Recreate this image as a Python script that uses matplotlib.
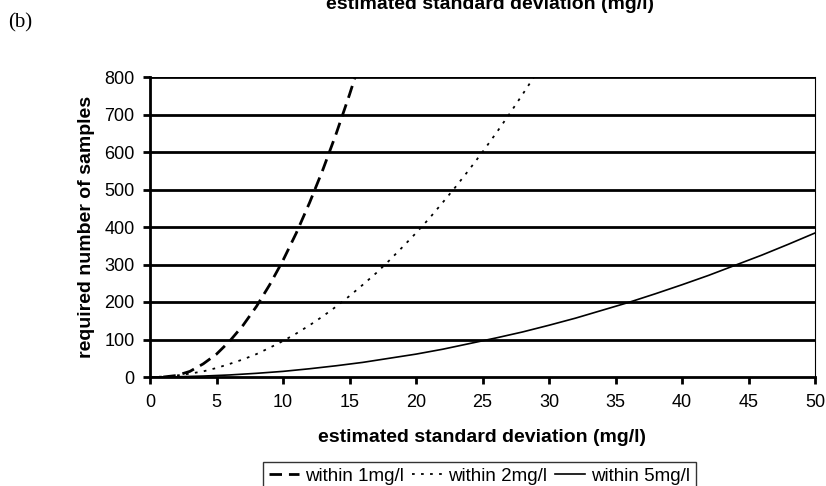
import matplotlib
matplotlib.use("Agg")
import matplotlib.pyplot as plt

# Data (required number of samples vs estimated sd)
sd_1mg = [1, 2, 3, 4, 5, 6, 7, 8, 9, 10, 11, 12, 13, 14, 15, 16]
n_1mg = [0, 4, 15, 35, 61, 96, 138, 188, 246, 311, 384, 465, 553, 649, 753, 864]

sd_2mg = list(range(0, 30))
n_2mg = [0, 1, 4, 9, 15, 24, 35, 47, 61, 78, 96, 116, 138, 162, 188, 216,
         246, 277, 311, 347, 384, 423, 465, 508, 553, 600, 649, 700, 753, 807]

sd_5mg = [0, 2, 4, 6, 8, 10, 12, 14, 16, 18, 20, 22, 24, 26, 28, 30, 32, 34,
          36, 38, 40, 42, 44, 46, 48, 50]
n_5mg = [0, 0.6, 2.5, 5.5, 9.8, 15, 22, 30, 39, 50, 61, 74, 89, 104, 120, 138,
         157, 178, 199, 222, 246, 271, 298, 325, 354, 384]

labels = ["within 1mg/l", "within 2mg/l", "within 5mg/l"]
xticks = list(range(0, 55, 5))
yticks = list(range(0, 900, 100))

plt.rcParams["font.family"] = "Liberation Sans"

fig = plt.figure(figsize=(8.26, 4.86), dpi=100)
ax = fig.add_axes([150 / 826, 1 - 377 / 486, 665 / 826, 300 / 486])

# Gridlines
for y in yticks[1:]:
    ax.axhline(y, color="black", lw=2.0, zorder=1)

# Curves
ax.plot(sd_1mg, n_1mg, color="black", lw=2.0, linestyle=(0, (4.5, 2.5)), label=labels[0], zorder=3)
ax.plot(sd_2mg, n_2mg, color="black", lw=1.3, linestyle=(0, (1.5, 3.5)), label=labels[1], zorder=3)
ax.plot(sd_5mg, n_5mg, color="black", lw=1.2, label=labels[2], zorder=3)

ax.set_xlim(0, 50)
ax.set_ylim(0, 800)
ax.set_xticks(xticks)
ax.set_yticks(yticks)
ax.tick_params(axis="both", labelsize=13, width=2, length=5, direction="out", color="black")
ax.tick_params(axis="y", pad=6)
ax.tick_params(axis="x", pad=7)

# Spines
ax.spines["top"].set_visible(False)
ax.spines["left"].set_linewidth(2)
ax.spines["bottom"].set_linewidth(2)
ax.spines["right"].set_linewidth(0.8)

# Axis labels
ax.set_xlabel("estimated standard deviation (mg/l)", fontsize=14, fontweight="bold", va="center")
ax.xaxis.set_label_coords(0.5, -0.2)
ax.set_ylabel("required number of samples", fontsize=14, fontweight="bold", va="center")
ax.yaxis.set_label_coords(-0.096, 0.5)

# Cut-off title at the top and panel tag
fig.text(490 / 826, 1 - 9 / 486, "estimated standard deviation (mg/l)", fontsize=14,
         fontweight="bold", ha="center", va="baseline")
fig.text(8 / 826, 1 - 23 / 486, "(b)", fontsize=15, family="Liberation Serif", ha="left", va="center")

# Legend
leg = fig.legend(loc="upper left", bbox_to_anchor=(263 / 826, 1 - 462 / 486), ncol=3,
                 fontsize=13.5, frameon=True, fancybox=False, edgecolor="black",
                 borderaxespad=0, handlelength=1.6, handletextpad=0.35, columnspacing=0.4,
                 borderpad=0.3)
leg.get_frame().set_linewidth(1.0)

fig.savefig("out.png", dpi=100)
